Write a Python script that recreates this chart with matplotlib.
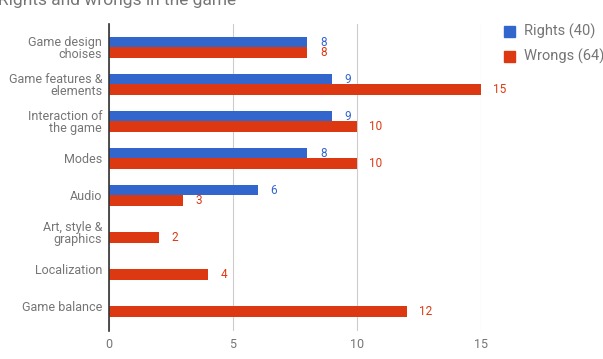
import numpy as np
import matplotlib.pyplot as plt

categories = ["Game design\nchoises", "Game features &\nelements", "Interaction of\nthe game",
              "Modes", "Audio", "Art, style &\ngraphics", "Localization", "Game balance"]
rights = [8, 9, 9, 8, 6, 0, 0, 0]
wrongs = [8, 15, 10, 10, 3, 2, 4, 12]
series_names = ["Rights (40)", "Wrongs (64)"]

blue = "#3366cc"
red = "#dc3912"
grey = "#757575"

plt.rcParams['font.family'] = ['Roboto', 'DejaVu Sans']

fig = plt.figure(figsize=(6.03, 3.59), dpi=100)
ax = fig.add_axes([109 / 603, 1 - 331 / 359, (481 - 109) / 603, (331 - 24) / 359])

y = np.arange(len(categories))
h = 0.29
ax.barh(y - h / 2, rights, height=h, color=blue, zorder=3)
ax.barh(y + h / 2, wrongs, height=h, color=red, zorder=3)

for i in range(len(categories)):
    if rights[i] > 0:
        ax.annotate(str(rights[i]), (rights[i], y[i] - h / 2), xytext=(9, 0),
                    textcoords="offset points", va="center", ha="left", color=blue, fontsize=8.5)
    if wrongs[i] > 0:
        ax.annotate(str(wrongs[i]), (wrongs[i], y[i] + h / 2), xytext=(9, 0),
                    textcoords="offset points", va="center", ha="left", color=red, fontsize=8.5)

ax.set_ylim(7.665, -0.635)
ax.set_xlim(0, 15)
ax.set_xticks([0, 5, 10, 15])
ax.set_yticks(y)
ax.set_yticklabels(categories, linespacing=0.95)
ax.tick_params(axis="both", length=0, colors=grey, labelsize=9)
ax.tick_params(axis="y", pad=5)
ax.tick_params(axis="x", pad=5)
ax.xaxis.grid(True, color="#cccccc", linewidth=0.8, zorder=0)
for s in ["top", "right", "bottom"]:
    ax.spines[s].set_visible(False)
ax.spines["left"].set_color("#333333")
ax.spines["left"].set_linewidth(1.2)
ax.spines["left"].set_zorder(4)

# legend drawn by hand to keep the clipped look at the right edge
for k, (name, col) in enumerate(zip(series_names, [blue, red])):
    yy = 1 - (31 + 25 * k) / 359
    fig.patches.append(plt.Rectangle((504 / 603, yy - 5.5 / 359), 11 / 603, 11 / 359,
                                     transform=fig.transFigure, color=col, figure=fig))
    fig.text(524 / 603, yy, name, va="center", ha="left", color=grey, fontsize=10.5)

fig.text(-2 / 603, 1 - 5 / 359, "Rights and wrongs in the game", va="baseline", ha="left",
         color=grey, fontsize=12.5)

fig.savefig("out.png", dpi=100)
